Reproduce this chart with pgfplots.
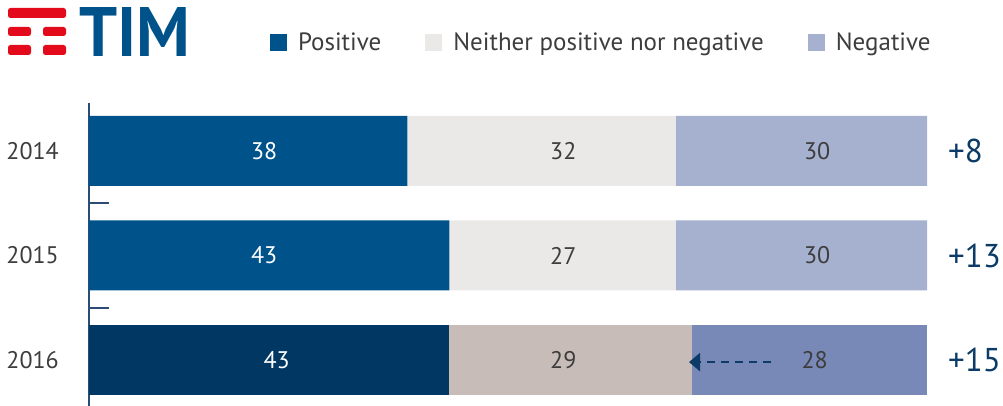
\documentclass[border=0pt]{standalone}
\usepackage{fontspec}
\setmainfont{PT Sans}
\usepackage{pgfplots}
\pgfplotsset{compat=1.18}
\usetikzlibrary{arrows.meta}

\definecolor{pos}{HTML}{00528B}
\definecolor{posB}{HTML}{003763}
\definecolor{neu}{HTML}{EAE9E7}
\definecolor{neuB}{HTML}{C7BCB7}
\definecolor{neg}{HTML}{A6B0CF}
\definecolor{negB}{HTML}{7889B8}
\definecolor{txt}{HTML}{3D3D3D}
\definecolor{netcol}{HTML}{0B3B66}
\definecolor{axiscol}{HTML}{2B4C74}
\definecolor{timred}{HTML}{E30A1B}

\newcommand{\valfont}{\fontsize{24}{28}\selectfont}
\newcommand{\netfont}{\fontsize{33}{38}\selectfont}

\pgfplotsset{
  geom/.style={at={(89pt,-406pt)}, anchor=south west, scale only axis,
    width=838pt, height=303pt, xmin=0, xmax=100, ymin=-0.459, ymax=2.44,
    y dir=reverse},
  sq/.style={legend image code/.code={\fill[##1] (0pt,-8.5pt) rectangle (17pt,8.5pt);}},
}

\begin{document}
\begin{tikzpicture}
\useasboundingbox (0pt,0pt) rectangle (1003pt,-406pt);

% logo
\fill[timred, rounded corners=2.5pt] (8pt,-8pt) rectangle (66pt,-18pt);
\fill[timred, rounded corners=2.5pt] (8pt,-27pt) rectangle (31pt,-36pt);
\fill[timred, rounded corners=2.5pt] (43pt,-27pt) rectangle (66pt,-36pt);
\fill[timred, rounded corners=2.5pt] (8pt,-45pt) rectangle (31pt,-55pt);
\fill[timred, rounded corners=2.5pt] (43pt,-45pt) rectangle (66pt,-55pt);
\node[anchor=north west, inner sep=0pt, text=pos] at (79pt,-7pt)
  {\resizebox{111pt}{49pt}{\bfseries TIM}};

\begin{axis}[geom, xbar stacked, bar width=70pt,
  axis x line=none, axis y line*=left,
  y axis line style={-, draw=axiscol, line width=2pt},
  ytick={0,1,2}, yticklabels={2014,2015,2016},
  major tick length=0pt,
  tick style={draw=axiscol, line width=2pt},
  yticklabel style={font=\valfont, text=txt, inner sep=0pt, xshift=-30pt},
  extra y ticks={0.5,1.5}, extra y tick labels={},
  extra y tick style={major tick length=20pt, tick align=inside},
  legend columns=3,
  legend style={at={(0.216,1.201)}, anchor=west, draw=none, fill=none,
    inner sep=0pt, outer sep=0pt, font=\fontsize{25}{30}\selectfont, text=txt,
    /tikz/every odd column/.append style={column sep=9pt},
    /tikz/every even column/.append style={column sep=42pt}},
]
\addplot[fill=pos, draw=none, sq] coordinates {(38,0) (43,1) (0,2)};
\addplot[fill=neu, draw=none, sq] coordinates {(32,0) (27,1) (0,2)};
\addplot[fill=neg, draw=none, sq] coordinates {(30,0) (30,1) (0,2)};
\addplot[fill=posB, draw=none, forget plot] coordinates {(0,0) (0,1) (43,2)};
\addplot[fill=neuB, draw=none, forget plot] coordinates {(0,0) (0,1) (29,2)};
\addplot[fill=negB, draw=none, forget plot] coordinates {(0,0) (0,1) (28,2)};
\legend{Positive, Neither positive nor negative, Negative}
\end{axis}

\begin{axis}[geom, hide axis, clip=false]
\addplot[draw=none, mark=none, nodes near coords, point meta=explicit symbolic,
  every node near coord/.append style={anchor=center, text=white, font=\valfont}]
  coordinates {(20.9,0)[38] (20.9,1)[43] (22.4,2)[43]};
\addplot[draw=none, mark=none, nodes near coords, point meta=explicit symbolic,
  every node near coord/.append style={anchor=center, text=txt, font=\valfont}]
  coordinates {(56.6,0)[32] (56.6,1)[27] (56.6,2)[29]
               (86.9,0)[30] (86.9,1)[30] (86.6,2)[28]};
\addplot[draw=none, mark=none, nodes near coords, point meta=explicit symbolic,
  every node near coord/.append style={anchor=west, inner sep=0pt, text=netcol, font=\netfont}]
  coordinates {(102.5,0)[+8] (102.5,1)[+13] (102.5,2)[+15]};
\addplot[draw=netcol, line width=2.5pt, dash pattern=on 8pt off 6pt,
  -{Triangle[length=11pt,width=18pt]}]
  coordinates {(81.4,2.02) (71.6,2.02)};
\end{axis}
\end{tikzpicture}
\end{document}
